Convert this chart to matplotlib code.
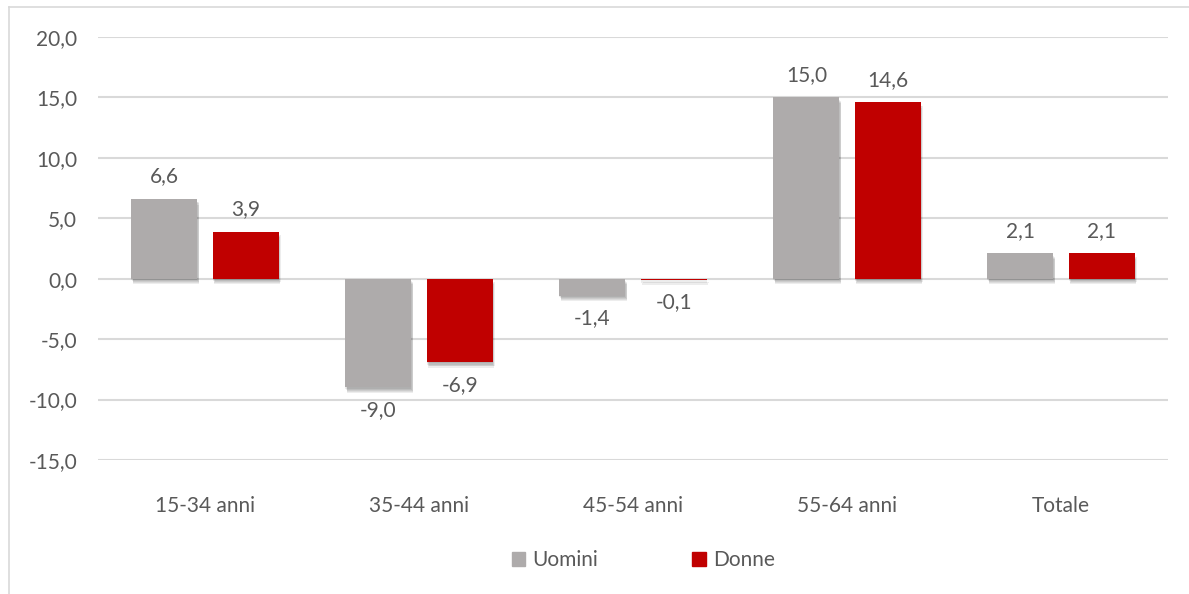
import matplotlib.pyplot as plt
import matplotlib.patheffects as pe
from matplotlib.lines import Line2D
import numpy as np

categories = ["15-34 anni", "35-44 anni", "45-54 anni", "55-64 anni", "Totale"]
uomini = [6.6, -9.0, -1.4, 15.0, 2.1]
donne = [3.9, -6.9, -0.1, 14.6, 2.1]
series_names = ["Uomini", "Donne"]
yticks = [-15, -10, -5, 0, 5, 10, 15, 20]

plt.rcParams["font.family"] = ["Lato", "DejaVu Sans"]
text_color = "#595959"
grey = "#AEABAB"
red = "#C00000"
fs = 15

fig = plt.figure(figsize=(11.89, 5.94), dpi=100)
ax = fig.add_axes([98 / 1189, 1 - 460 / 594, 1070 / 1189, 423 / 594])

x = np.arange(len(categories))
w = 0.308
off = 0.19
# soft drop shadow built from a few faint offset copies
shadow = [pe.SimplePatchShadow(offset=(dx, dy), shadow_rgbFace="black", alpha=0.07)
          for dx, dy in [(0, -1), (0.5, -2), (1, -3), (1, -4), (1.5, -2.5)]] + [pe.Normal()]
b1 = ax.bar(x - off, uomini, w, color=grey, zorder=3, path_effects=shadow)
b2 = ax.bar(x + off, donne, w, color=red, zorder=3, path_effects=shadow)

def fmt(v):
    return f"{v:.1f}".replace(".", ",")

for bars, vals in ((b1, uomini), (b2, donne)):
    for bar, v in zip(bars, vals):
        cx = bar.get_x() + bar.get_width() / 2
        if v >= 0:
            ax.annotate(fmt(v), (cx, v), xytext=(0, 9), textcoords="offset points",
                        ha="center", va="bottom", fontsize=fs, color=text_color)
        else:
            ax.annotate(fmt(v), (cx, v), xytext=(0, -9), textcoords="offset points",
                        ha="center", va="top", fontsize=fs, color=text_color)

ax.set_xlim(-0.5, 4.5)
ax.set_ylim(-15, 20)
ax.set_yticks(yticks)
ax.set_yticklabels([fmt(t) for t in yticks])
ax.set_xticks(x)
ax.set_xticklabels(categories)
ax.tick_params(axis="both", length=0, labelsize=fs, colors=text_color)
ax.tick_params(axis="y", pad=15)
ax.tick_params(axis="x", pad=26)
ax.grid(axis="y", color="#D9D9D9", linewidth=1.5, zorder=0)
for s in ax.spines.values():
    s.set_visible(False)

handles = [plt.Rectangle((0, 0), 1, 1, color=grey), plt.Rectangle((0, 0), 1, 1, color=red)]
fig.legend(handles, series_names, loc="center", bbox_to_anchor=(0.541, 1 - 560 / 594), ncol=2,
           frameon=False, fontsize=fs, labelcolor=text_color, handlelength=0.65, handleheight=0.65,
           handletextpad=0.35, columnspacing=4.5)

# outer frame (only top and left edges fall inside the canvas)
fig.add_artist(Line2D([9 / 1189, 1], [1 - 7 / 594, 1 - 7 / 594], color="#D9D9D9", linewidth=1.2))
fig.add_artist(Line2D([9 / 1189, 9 / 1189], [0, 1 - 7 / 594], color="#D9D9D9", linewidth=1.2))

fig.savefig("out.png", dpi=100)
